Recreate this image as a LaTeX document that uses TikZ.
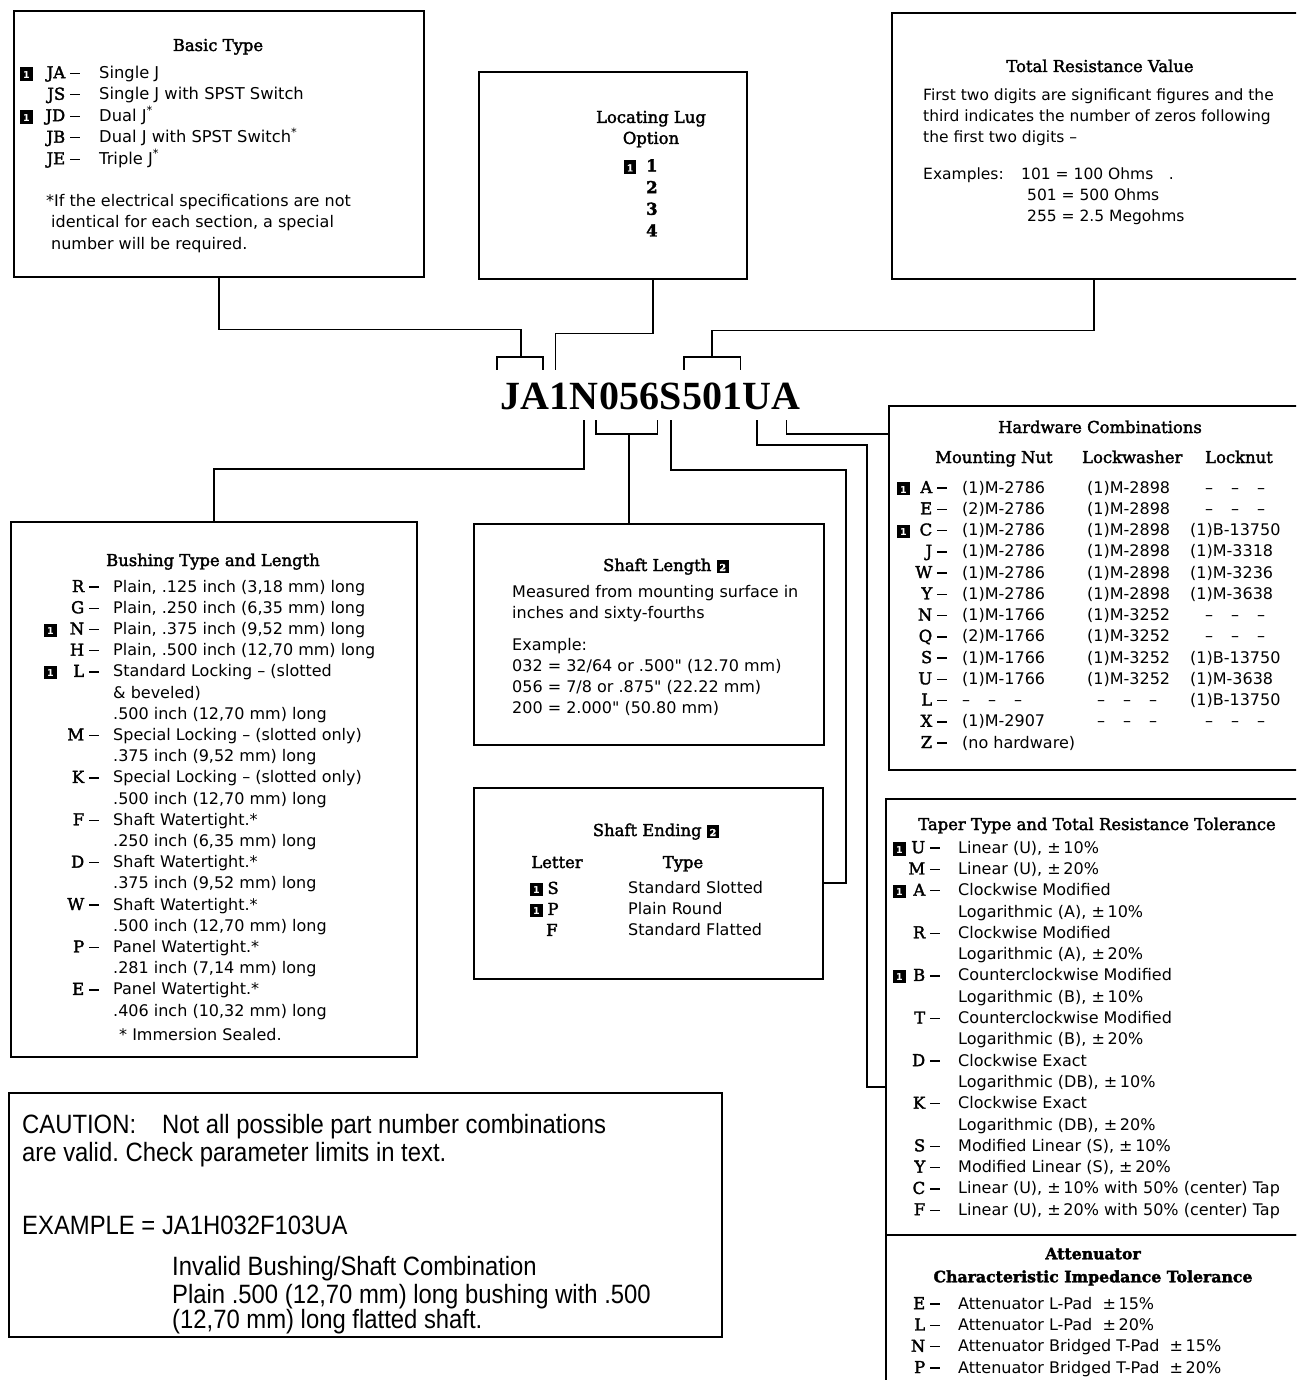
\documentclass[tikz,border=0pt]{standalone}
\usepackage{fontspec}
\setmainfont{DejaVu Sans}
\newfontfamily\serifface[FakeBold=2]{DejaVu Serif}
\newfontfamily\pnface{Liberation Serif}
\newfontfamily\cautionface[FakeStretch=0.9]{Liberation Sans}
\usetikzlibrary{positioning}
\frenchspacing

\newlength\bw
\newlength\cw
\newlength\dw
\newcommand{\setcols}[3]{\global\bw=#1\relax\global\cw=#2\relax\global\dw=#3\relax}
\newcommand{\badge}[1]{{\setlength{\fboxsep}{2.4pt}\colorbox{black}{\makebox[7.5pt]{\rule{0pt}{8.5pt}\color{white}\fontsize{9.5}{9.5}\selectfont\bfseries #1}}}}
\newcommand{\code}{\serifface\fontsize{16.4}{21.2}\selectfont}
\newcommand{\dashbar}{\rule[4.3pt]{10pt}{1.4pt}}
\newcommand{\opt}[3]{\strut\makebox[\bw][l]{#1}\makebox[\cw][r]{\code #2}\makebox[\dw][l]{\hspace{5pt}\dashbar}#3}
\newcommand{\more}[1]{\strut\hspace*{\dimexpr\bw+\cw+\dw\relax}#1}
\newcommand{\ddd}{\makebox[60pt]{\textendash\hfill\textendash\hfill\textendash}}
\newcommand{\hwc}[3]{\makebox[125pt][l]{#1}\makebox[103pt][l]{#2}#3}

\begin{document}
\begin{tikzpicture}[x=1pt, y=-1pt,
    box/.style={draw, line width=1.6pt, inner sep=0pt, anchor=north west},
    txt/.style={anchor=north west, inner sep=0pt, align=left, font=\fontsize{16}{21.2}\selectfont},
    hdr/.style={anchor=base, inner sep=0pt, align=center, font=\serifface\fontsize{16.4}{21}\selectfont},
    part/.style={inner sep=0pt, text height=27pt, text depth=0pt, font=\pnface\bfseries\fontsize{40}{40}\selectfont},
    line/.style={line width=1.7pt}
  ]
  \useasboundingbox (0,0) rectangle (1296,1380);
  \clip (0,0) rectangle (1296,1380);

  % boxes
  \node[box, minimum width=410, minimum height=266] (basic) at (13,10) {};
  \node[box, minimum width=268, minimum height=207] (lug) at (478,71) {};
  \node[box, minimum width=420, minimum height=266] (res) at (891,12) {};
  \node[box, minimum width=406, minimum height=535] (bush) at (10,521) {};
  \node[box, minimum width=350, minimum height=221] (slen) at (473,523) {};
  \node[box, minimum width=349, minimum height=191] (send) at (473,787) {};
  \node[box, minimum width=420, minimum height=364] (hw) at (888,405) {};
  \node[box, minimum width=425, minimum height=436] (taper) at (885,798) {};
  \node[box, minimum width=425, minimum height=180] (att) at (885,1234) {};
  \node[box, minimum width=713, minimum height=244] (caut) at (8,1092) {};

  % part number
  \node[part, anchor=base west] (pJA) at (500,409) {JA};
  \node[part, right=0pt of pJA] (p1) {1};
  \node[part, right=0pt of p1] (pN) {N};
  \node[part, right=0pt of pN] (p056) {056};
  \node[part, right=0pt of p056] (pS) {S};
  \node[part, right=0pt of pS] (p501) {501};
  \node[part, right=0pt of p501] (pU) {U};
  \node[part, right=0pt of pU] (pA) {A};
  \coordinate (sebend) at (846,470);
  \coordinate (tpbend) at (867,445);

  % connectors
  \draw[line] (basic.south) -- ++(0,52) -| ([xshift=-4pt,yshift=25pt]pJA.north);
  \draw[line] ([xshift=-3pt,yshift=12pt]pJA.north west) |- ([xshift=-4pt,yshift=25pt]pJA.north) -| ([xshift=-6pt,yshift=12pt]pJA.north east);
  \draw[line] ([xshift=40pt]lug.south) -- ++(0,54) -| ([xshift=-4pt,yshift=12pt]p1.north);
  \draw[line] ([xshift=-8pt]res.south) -- ++(0,51) -| ([yshift=25pt]p501.north);
  \draw[line] ([xshift=2pt,yshift=12pt]p501.north west) |- ([yshift=25pt]p501.north) -| ([xshift=-2pt,yshift=12pt]p501.north east);
  \draw[line] ([yshift=-11pt]pN.south) -- ++(0,49) -| (bush.north);
  \draw[line] ([xshift=-3pt,yshift=-11pt]p056.south west) |- ([yshift=-25pt]p056.south) -| ([xshift=-2pt,yshift=-11pt]p056.south east);
  \draw[line] ([yshift=-25pt]p056.south) -- (p056.south |- slen.north);
  \draw[line] ([yshift=-11pt]pS.south) |- (sebend) |- (send.east);
  \draw[line] ([yshift=-11pt]pU.south) |- (tpbend) |- ([yshift=-70pt]taper.west);
  \draw[line] ([yshift=-11pt]pA.south) |- ([yshift=154pt]hw.west);

  % basic type
  \node[hdr] (basicT) at (218,51) {Basic Type};
  \setcols{17pt}{28pt}{34pt}
  \node[txt, font=\fontsize{16.3}{21.5}\selectfont] (basicL) at (20,63) {%
    \opt{\badge1}{JA}{Single J}\\
    \opt{}{JS}{Single J with SPST Switch}\\
    \opt{\badge1}{JD}{Dual J\textsuperscript{*}}\\
    \opt{}{JB}{Dual J with SPST Switch\textsuperscript{*}}\\
    \opt{}{JE}{Triple J\textsuperscript{*}}};
  \node[txt, font=\fontsize{16}{21.5}\selectfont] (basicN) at (46,191) {%
    \strut*If the electrical specifications are not\\
    \hspace*{5pt}identical for each section, a special\\
    \hspace*{5pt}number will be required.};

  % locating lug
  \node[hdr, anchor=north] (lugT) at (651,108) {\strut Locating Lug\\Option};
  \node[txt, font=\serifface\bfseries\fontsize{16.4}{21.7}\selectfont] (lugL) at (646,156) {%
    \strut\llap{\badge1\hspace{10pt}}1\\2\\3\\4};

  % total resistance
  \node[hdr] (resT) at (1100,72) {Total Resistance Value};
  \node[txt, font=\fontsize{15.5}{21}\selectfont] (resL) at (923,86) {%
    \strut First two digits are significant figures and the\\
    third indicates the number of zeros following\\
    the first two digits \textendash\\[16pt]
    \makebox[98pt][l]{Examples:}101 = 100 Ohms\quad .\\
    \hspace*{104pt}501 = 500 Ohms\\
    \hspace*{104pt}255 = 2.5 Megohms};

  % bushing
  \node[hdr] (bushT) at (213,566) {Bushing Type and Length};
  \setcols{12pt}{28pt}{29pt}
  \node[txt, font=\fontsize{16}{21.2}\selectfont] (bushL) at (44,577) {%
    \opt{}{R}{Plain, .125 inch (3,18 mm) long}\\
    \opt{}{G}{Plain, .250 inch (6,35 mm) long}\\
    \opt{\badge1}{N}{Plain, .375 inch (9,52 mm) long}\\
    \opt{}{H}{Plain, .500 inch (12,70 mm) long}\\
    \opt{\badge1}{L}{Standard Locking \textendash\ (slotted}\\
    \more{\& beveled)}\\
    \more{.500 inch (12,70 mm) long}\\
    \opt{}{M}{Special Locking \textendash\ (slotted only)}\\
    \more{.375 inch (9,52 mm) long}\\
    \opt{}{K}{Special Locking \textendash\ (slotted only)}\\
    \more{.500 inch (12,70 mm) long}\\
    \opt{}{F}{Shaft Watertight.*}\\
    \more{.250 inch (6,35 mm) long}\\
    \opt{}{D}{Shaft Watertight.*}\\
    \more{.375 inch (9,52 mm) long}\\
    \opt{}{W}{Shaft Watertight.*}\\
    \more{.500 inch (12,70 mm) long}\\
    \opt{}{P}{Panel Watertight.*}\\
    \more{.281 inch (7,14 mm) long}\\
    \opt{}{E}{Panel Watertight.*}\\
    \more{.406 inch (10,32 mm) long}\\[3pt]
    \more{\hspace{6pt}* Immersion Sealed.}};

  % shaft length
  \node[hdr] (slenT) at (666,571) {Shaft Length \badge2};
  \node[txt, font=\fontsize{16}{21}\selectfont] (slenL) at (512,583) {%
    \strut Measured from mounting surface in\\
    inches and sixty-fourths\\[11pt]
    Example:\\
    032 = 32/64 or .500\textquotedbl{} (12.70 mm)\\
    056 = 7/8 or .875\textquotedbl{} (22.22 mm)\\
    200 = 2.000\textquotedbl{} (50.80 mm)};

  % shaft ending
  \node[hdr] (sendT) at (656,836) {Shaft Ending \badge2};
  \node[hdr] (sendC1) at (557,868) {Letter};
  \node[hdr] (sendC2) at (683,868) {Type};
  \node[txt, font=\fontsize{16}{21}\selectfont] (sendL) at (530,879) {%
    \strut\makebox[98pt][l]{\badge1\hspace{5pt}{\code S}}Standard Slotted\\
    \strut\makebox[98pt][l]{\badge1\hspace{5pt}{\code P}}Plain Round\\
    \strut\makebox[98pt][l]{\hspace{16pt}{\code F}}Standard Flatted};

  % hardware
  \node[hdr] (hwT) at (1100,433) {Hardware Combinations};
  \node[hdr, anchor=base west] (hwC1) at (935,463) {Mounting Nut};
  \node[hdr, anchor=base west] (hwC2) at (1082,463) {Lockwasher};
  \node[hdr, anchor=base west] (hwC3) at (1205,463) {Locknut};
  \setcols{14pt}{21pt}{30pt}
  \node[txt, font=\fontsize{16}{21.25}\selectfont] (hwL) at (897,478) {%
    \opt{\badge1}{A}{\hwc{(1)M-2786}{(1)M-2898}{\hspace{15pt}\ddd}}\\
    \opt{}{E}{\hwc{(2)M-2786}{(1)M-2898}{\hspace{15pt}\ddd}}\\
    \opt{\badge1}{C}{\hwc{(1)M-2786}{(1)M-2898}{(1)B-13750}}\\
    \opt{}{J}{\hwc{(1)M-2786}{(1)M-2898}{(1)M-3318}}\\
    \opt{}{W}{\hwc{(1)M-2786}{(1)M-2898}{(1)M-3236}}\\
    \opt{}{Y}{\hwc{(1)M-2786}{(1)M-2898}{(1)M-3638}}\\
    \opt{}{N}{\hwc{(1)M-1766}{(1)M-3252}{\hspace{15pt}\ddd}}\\
    \opt{}{Q}{\hwc{(2)M-1766}{(1)M-3252}{\hspace{15pt}\ddd}}\\
    \opt{}{S}{\hwc{(1)M-1766}{(1)M-3252}{(1)B-13750}}\\
    \opt{}{U}{\hwc{(1)M-1766}{(1)M-3252}{(1)M-3638}}\\
    \opt{}{L}{\hwc{\ddd}{\hspace{10pt}\ddd}{(1)B-13750}}\\
    \opt{}{X}{\hwc{(1)M-2907}{\hspace{10pt}\ddd}{\hspace{15pt}\ddd}}\\
    \opt{}{Z}{(no hardware)}};

  % taper
  \node[hdr] (taperT) at (1097,830) {Taper Type and Total Resistance Tolerance};
  \setcols{12pt}{20pt}{33pt}
  \node[txt, font=\fontsize{16}{21.3}\selectfont] (taperL) at (893,838) {%
    \opt{\badge1}{U}{Linear (U), ±\,10\%}\\
    \opt{}{M}{Linear (U), ±\,20\%}\\
    \opt{\badge1}{A}{Clockwise Modified}\\
    \more{Logarithmic (A), ±\,10\%}\\
    \opt{}{R}{Clockwise Modified}\\
    \more{Logarithmic (A), ±\,20\%}\\
    \opt{\badge1}{B}{Counterclockwise Modified}\\
    \more{Logarithmic (B), ±\,10\%}\\
    \opt{}{T}{Counterclockwise Modified}\\
    \more{Logarithmic (B), ±\,20\%}\\
    \opt{}{D}{Clockwise Exact}\\
    \more{Logarithmic (DB), ±\,10\%}\\
    \opt{}{K}{Clockwise Exact}\\
    \more{Logarithmic (DB), ±\,20\%}\\
    \opt{}{S}{Modified Linear (S), ±\,10\%}\\
    \opt{}{Y}{Modified Linear (S), ±\,20\%}\\
    \opt{}{C}{Linear (U), ±\,10\% with 50\% (center) Tap}\\
    \opt{}{F}{Linear (U), ±\,20\% with 50\% (center) Tap}};

  % attenuator
  \node[hdr, anchor=north, font=\serifface\bfseries\fontsize{15.7}{23}\selectfont] (attT) at (1093,1243) {%
    \strut Attenuator\\Characteristic Impedance Tolerance};
  \node[txt, font=\fontsize{16}{21.3}\selectfont] (attL) at (893,1294) {%
    \opt{}{E}{Attenuator L-Pad \ ±\,15\%}\\
    \opt{}{L}{Attenuator L-Pad \ ±\,20\%}\\
    \opt{}{N}{Attenuator Bridged T-Pad \ ±\,15\%}\\
    \opt{}{P}{Attenuator Bridged T-Pad \ ±\,20\%}};

  % caution
  \node[txt, font=\cautionface\fontsize{26.5}{26}\selectfont] (cautL) at (22,1114) {%
    \strut CAUTION:\hspace{26pt}Not all possible part number combinations\\
    are valid. Check parameter limits in text.};
  \node[txt, font=\cautionface\fontsize{26.5}{26}\selectfont] (cautE) at (22,1216) {%
    \strut EXAMPLE = JA1H032F103UA};
  \node[txt, font=\cautionface\fontsize{26.5}{25.5}\selectfont] (cautN) at (172,1256) {%
    \strut Invalid Bushing/Shaft Combination\\
    Plain .500 (12,70 mm) long bushing with .500\\
    (12,70 mm) long flatted shaft.};
\end{tikzpicture}
\end{document}
